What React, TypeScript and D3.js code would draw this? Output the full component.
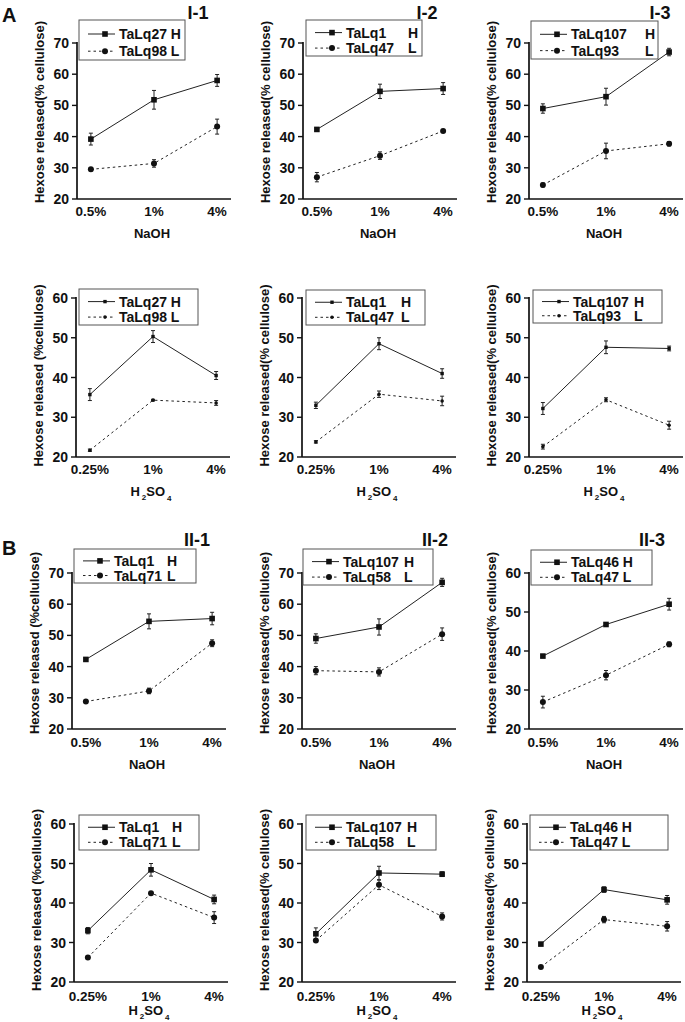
import React from "react";
import * as d3 from "d3";

const naohLevels = ["0.5%", "1%", "4%"];
const h2so4Levels = ["0.25%", "1%", "4%"];

// Group A (I) — NaOH
const i1NaohH = [39.2, 51.8, 58.0];
const i1NaohHErr = [1.9, 3.0, 1.9];
const i1NaohL = [29.5, 31.4, 43.2];
const i1NaohLErr = [0.5, 1.2, 2.4];
const i2NaohH = [42.3, 54.5, 55.4];
const i2NaohHErr = [0.6, 2.3, 1.9];
const i2NaohL = [27.0, 33.9, 41.8];
const i2NaohLErr = [1.5, 1.2, 0.5];
const i3NaohH = [49.0, 52.8, 67.1];
const i3NaohHErr = [1.5, 2.7, 1.2];
const i3NaohL = [24.5, 35.4, 37.7];
const i3NaohLErr = [0.6, 2.5, 0.7];
// Group A (I) — H2SO4
const i1AcidH = [35.7, 50.3, 40.5];
const i1AcidHErr = [1.5, 1.5, 1.0];
const i1AcidL = [21.7, 34.3, 33.6];
const i1AcidLErr = [0.3, 0.2, 0.6];
const i2AcidH = [33.0, 48.5, 41.0];
const i2AcidHErr = [0.8, 1.5, 1.2];
const i2AcidL = [23.8, 35.8, 34.1];
const i2AcidLErr = [0.3, 0.8, 1.2];
const i3AcidH = [32.2, 47.6, 47.3];
const i3AcidHErr = [1.5, 1.6, 0.6];
const i3AcidL = [22.6, 34.4, 28.0];
const i3AcidLErr = [0.6, 0.5, 1.0];
// Group B (II) — NaOH
const ii1NaohH = [42.3, 54.5, 55.4];
const ii1NaohHErr = [0.5, 2.4, 2.0];
const ii1NaohL = [28.8, 32.2, 47.5];
const ii1NaohLErr = [0.3, 0.9, 1.1];
const ii2NaohH = [49.0, 52.7, 67.0];
const ii2NaohHErr = [1.5, 2.6, 1.3];
const ii2NaohL = [38.7, 38.3, 50.4];
const ii2NaohLErr = [1.3, 1.3, 2.0];
const ii3NaohH = [38.7, 46.8, 52.0];
const ii3NaohHErr = [0.4, 0.5, 1.5];
const ii3NaohL = [26.9, 33.8, 41.7];
const ii3NaohLErr = [1.5, 1.2, 0.6];
// Group B (II) — H2SO4
const ii1AcidH = [33.0, 48.4, 40.9];
const ii1AcidHErr = [0.8, 1.6, 1.1];
const ii1AcidL = [26.2, 42.5, 36.3];
const ii1AcidLErr = [0.3, 0.3, 1.5];
const ii2AcidH = [32.2, 47.6, 47.3];
const ii2AcidHErr = [1.5, 1.7, 0.6];
const ii2AcidL = [30.5, 44.6, 36.6];
const ii2AcidLErr = [0.3, 1.2, 0.9];
const ii3AcidH = [29.6, 43.4, 40.8];
const ii3AcidHErr = [0.3, 0.7, 1.1];
const ii3AcidL = [23.8, 35.8, 34.1];
const ii3AcidLErr = [0.3, 0.8, 1.2];

const labelA = "Hexose released(% cellulose)";
const labelB = "Hexose released (%cellulose)";

const FONT = "'Liberation Sans', Arial, Helvetica, sans-serif";

type Row = { top: number; h: number; tickDy: number; titleDy: number; labelDy: number; small: boolean };
const rows: Row[] = [
  { top: 43, h: 156, tickDy: 12, titleDy: 34, labelDy: -9, small: false },
  { top: 298, h: 159, tickDy: 12, titleDy: 34, labelDy: -2, small: true },
  { top: 573, h: 156, tickDy: 13, titleDy: 35, labelDy: -8, small: false },
  { top: 824, h: 158, tickDy: 14, titleDy: 28, labelDy: -3, small: false },
];

type Panel = {
  row: number;
  ax: number;
  yMax: number;
  acid: boolean;
  yLabel: string;
  legend: { x: number; y: number; w: number; h: number };
  hName: string;
  lName: string;
  codeDx: number | null;
  hVals: number[];
  hErr: number[];
  lVals: number[];
  lErr: number[];
};

const panels: Panel[] = [
  { row: 0, ax: 77, yMax: 70, acid: false, yLabel: labelA, legend: { x: 79, y: 20, w: 106, h: 40 }, hName: "TaLq27", lName: "TaLq98", codeDx: null, hVals: i1NaohH, hErr: i1NaohHErr, lVals: i1NaohL, lErr: i1NaohLErr },
  { row: 0, ax: 303, yMax: 70, acid: false, yLabel: labelA, legend: { x: 306, y: 20, w: 116, h: 36 }, hName: "TaLq1", lName: "TaLq47", codeDx: 62, hVals: i2NaohH, hErr: i2NaohHErr, lVals: i2NaohL, lErr: i2NaohLErr },
  { row: 0, ax: 529, yMax: 70, acid: false, yLabel: labelA, legend: { x: 531, y: 21, w: 127, h: 38 }, hName: "TaLq107", lName: "TaLq93", codeDx: 74, hVals: i3NaohH, hErr: i3NaohHErr, lVals: i3NaohL, lErr: i3NaohLErr },
  { row: 1, ax: 76, yMax: 60, acid: true, yLabel: labelB, legend: { x: 79, y: 289, w: 119, h: 36 }, hName: "TaLq27", lName: "TaLq98", codeDx: null, hVals: i1AcidH, hErr: i1AcidHErr, lVals: i1AcidL, lErr: i1AcidLErr },
  { row: 1, ax: 302, yMax: 60, acid: true, yLabel: labelA, legend: { x: 306, y: 290, w: 119, h: 35 }, hName: "TaLq1", lName: "TaLq47", codeDx: 55, hVals: i2AcidH, hErr: i2AcidHErr, lVals: i2AcidL, lErr: i2AcidLErr },
  { row: 1, ax: 529, yMax: 60, acid: true, yLabel: labelA, legend: { x: 533, y: 290, w: 129, h: 33 }, hName: "TaLq107", lName: "TaLq93", codeDx: 61, hVals: i3AcidH, hErr: i3AcidHErr, lVals: i3AcidL, lErr: i3AcidLErr },
  { row: 2, ax: 72, yMax: 70, acid: false, yLabel: labelB, legend: { x: 74, y: 549, w: 122, h: 34 }, hName: "TaLq1", lName: "TaLq71", codeDx: 53, hVals: ii1NaohH, hErr: ii1NaohHErr, lVals: ii1NaohL, lErr: ii1NaohLErr },
  { row: 2, ax: 302, yMax: 70, acid: false, yLabel: labelA, legend: { x: 303, y: 549, w: 130, h: 36 }, hName: "TaLq107", lName: "TaLq58", codeDx: 61, hVals: ii2NaohH, hErr: ii2NaohHErr, lVals: ii2NaohL, lErr: ii2NaohLErr },
  { row: 2, ax: 529, yMax: 60, acid: false, yLabel: labelA, legend: { x: 531, y: 550, w: 121, h: 35 }, hName: "TaLq46", lName: "TaLq47", codeDx: null, hVals: ii3NaohH, hErr: ii3NaohHErr, lVals: ii3NaohL, lErr: ii3NaohLErr },
  { row: 3, ax: 74, yMax: 60, acid: true, yLabel: labelB, legend: { x: 79, y: 815, w: 120, h: 35 }, hName: "TaLq1", lName: "TaLq71", codeDx: 53, hVals: ii1AcidH, hErr: ii1AcidHErr, lVals: ii1AcidL, lErr: ii1AcidLErr },
  { row: 3, ax: 302, yMax: 60, acid: true, yLabel: labelA, legend: { x: 306, y: 815, w: 130, h: 35 }, hName: "TaLq107", lName: "TaLq58", codeDx: 61, hVals: ii2AcidH, hErr: ii2AcidHErr, lVals: ii2AcidL, lErr: ii2AcidLErr },
  { row: 3, ax: 527, yMax: 60, acid: true, yLabel: labelA, legend: { x: 530, y: 815, w: 138, h: 35 }, hName: "TaLq46", lName: "TaLq47", codeDx: null, hVals: ii3AcidH, hErr: ii3AcidHErr, lVals: ii3AcidL, lErr: ii3AcidLErr },
];

const titles = [
  { text: "I-1", x: 198, y: 19 },
  { text: "I-2", x: 427, y: 19 },
  { text: "I-3", x: 660, y: 19 },
  { text: "II-1", x: 197, y: 546 },
  { text: "II-2", x: 435, y: 546 },
  { text: "II-3", x: 652, y: 546 },
];

const PLOT_W = 154;
const INK = "#111";

function Marker({ x, y, kind, small }: { x: number; y: number; kind: "H" | "L"; small: boolean }) {
  if (kind === "H") {
    const s = small ? 3.4 : 5.6;
    return <rect x={x - s / 2} y={y - s / 2} width={s} height={s} fill={INK} />;
  }
  return <circle cx={x} cy={y} r={small ? 1.8 : 3} fill={INK} />;
}

function PanelView({ p }: { p: Panel }) {
  const r = rows[p.row];
  const levels = p.acid ? h2so4Levels : naohLevels;
  const x = d3.scalePoint<string>().domain(levels).range([p.ax, p.ax + PLOT_W]).padding(0.22);
  const y = d3.scaleLinear().domain([20, p.yMax]).range([r.top + r.h, r.top]);
  const ticks = y.ticks(5);
  const line = d3
    .line<number>()
    .x((_, i) => x(levels[i]) as number)
    .y((d) => y(d));
  const baseY = r.top + r.h;
  const series: { kind: "H" | "L"; vals: number[]; err: number[]; dash?: string }[] = [
    { kind: "H", vals: p.hVals, err: p.hErr },
    { kind: "L", vals: p.lVals, err: p.lErr, dash: "2.5,3" },
  ];
  const lg = p.legend;
  const rowsY = [lg.y + lg.h * 0.35, lg.y + lg.h * 0.78];
  const names = [p.hName, p.lName];
  const codes = ["H", "L"];
  return (
    <g>
      {/* axes */}
      <line x1={p.ax} x2={p.ax} y1={r.top - 1} y2={baseY} stroke={INK} strokeWidth={1.7} />
      <line x1={p.ax} x2={p.ax + PLOT_W} y1={baseY} y2={baseY} stroke={INK} strokeWidth={1.7} />
      {ticks.map((t) => (
        <g key={t}>
          <line x1={p.ax - 5} x2={p.ax} y1={y(t)} y2={y(t)} stroke={INK} strokeWidth={1.4} />
          <text x={p.ax - 8} y={y(t)} dy="0.36em" textAnchor="end" fontSize={14} fontWeight="bold" fontFamily={FONT} fill={INK}>
            {t}
          </text>
        </g>
      ))}
      {levels.map((l) => (
        <text key={l} x={x(l)} y={baseY + r.tickDy} dy="0.36em" textAnchor="middle" fontSize={13.5} fontWeight="bold" fontFamily={FONT} fill={INK}>
          {l}
        </text>
      ))}
      {p.acid ? (
        <text x={p.ax + PLOT_W / 2 - 2} y={baseY + r.titleDy} dy="0.36em" textAnchor="middle" fontSize={13} fontWeight="bold" fontFamily={FONT} fill={INK}>
          H
          <tspan fontSize={8} dy="4" dx="2">{"2"}</tspan>
          <tspan dy="-4">SO</tspan>
          <tspan fontSize={8} dy="5" dx="2">{"4"}</tspan>
        </text>
      ) : (
        <text x={p.ax + PLOT_W / 2 - 2} y={baseY + r.titleDy} dy="0.36em" textAnchor="middle" fontSize={13} fontWeight="bold" fontFamily={FONT} fill={INK}>
          NaOH
        </text>
      )}
      <text
        transform={`translate(${p.ax - 38},${r.top + r.h / 2 + r.labelDy}) rotate(-90)`}
        dy="0.36em"
        textAnchor="middle"
        fontSize={13}
        fontWeight="bold"
        fontFamily={FONT}
        fill={INK}
      >
        {p.yLabel}
      </text>
      {/* series */}
      {series.map((s) => (
        <g key={s.kind}>
          <path d={line(s.vals) || ""} fill="none" stroke="#222" strokeWidth={1} strokeDasharray={s.dash} />
          {s.vals.map((v, i) => {
            const cx = x(levels[i]) as number;
            const e = s.err[i];
            return (
              <g key={i}>
                <line x1={cx} x2={cx} y1={y(v - e)} y2={y(v + e)} stroke="#222" strokeWidth={1} />
                <line x1={cx - 2} x2={cx + 2} y1={y(v - e)} y2={y(v - e)} stroke="#222" strokeWidth={1} />
                <line x1={cx - 2} x2={cx + 2} y1={y(v + e)} y2={y(v + e)} stroke="#222" strokeWidth={1} />
                <Marker x={cx} y={y(v)} kind={s.kind} small={r.small} />
              </g>
            );
          })}
        </g>
      ))}
      {/* legend */}
      <rect x={lg.x} y={lg.y} width={lg.w} height={lg.h} fill="#fff" stroke="#555" strokeWidth={1} />
      {rowsY.map((ry, i) => (
        <g key={i}>
          <line x1={lg.x + 9} x2={lg.x + 36} y1={ry} y2={ry} stroke="#222" strokeWidth={1} strokeDasharray={i === 1 ? "2.5,3" : undefined} />
          <Marker x={lg.x + 26} y={ry} kind={i === 0 ? "H" : "L"} small={r.small} />
          <text x={lg.x + 40} y={ry} dy="0.36em" fontSize={14} fontWeight="bold" fontFamily={FONT} fill={INK}>
            {p.codeDx === null ? `${names[i]} ${codes[i]}` : names[i]}
          </text>
          {p.codeDx !== null && (
            <text x={lg.x + 40 + p.codeDx} y={ry} dy="0.36em" fontSize={14} fontWeight="bold" fontFamily={FONT} fill={INK}>
              {codes[i]}
            </text>
          )}
        </g>
      ))}
    </g>
  );
}

export default function App() {
  return (
    <svg width={685} height={1022} style={{ position: "absolute", left: 0, top: 0, background: "#fff" }}>
      <rect width={685} height={1022} fill="#fff" />
      <text x={2} y={22} fontSize={20} fontWeight="bold" fontFamily={FONT} fill={INK}>A</text>
      <text x={2} y={555} fontSize={20} fontWeight="bold" fontFamily={FONT} fill={INK}>B</text>
      {titles.map((t) => (
        <text key={t.text} x={t.x} y={t.y} textAnchor="middle" fontSize={18} fontWeight="bold" fontFamily={FONT} fill={INK}>
          {t.text}
        </text>
      ))}
      {panels.map((p, i) => (
        <PanelView key={i} p={p} />
      ))}
    </svg>
  );
}
